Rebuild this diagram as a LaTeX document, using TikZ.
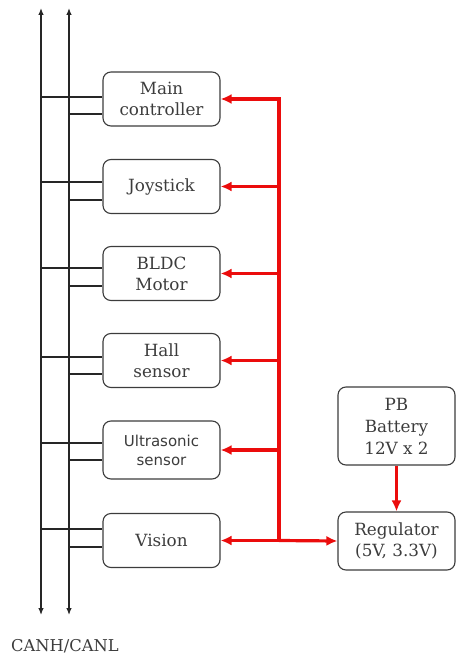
\documentclass[tikz,border=0pt]{standalone}
\usepackage{fontspec}
\setmainfont{DejaVu Serif}
\newfontfamily\ussans{DejaVu Sans}
\usetikzlibrary{arrows.meta,calc}
\definecolor{pwr}{RGB}{235,12,12}
\definecolor{edge}{RGB}{60,60,60}
\definecolor{txt}{RGB}{60,60,60}
\begin{document}
\begin{tikzpicture}[x=1pt,y=-1pt,
  blk/.style={draw=edge,line width=1.1pt,rounded corners=8pt,minimum width=117pt,minimum height=54pt,inner sep=0pt,align=center,text=txt,font=\fontsize{16.8}{21}\selectfont},
  bus/.style={line width=1.2pt,black!85},
  stub/.style={line width=1.1pt,black!85},
  pline/.style={pwr,line width=3.2pt,line cap=rect},
  parr/.style={pwr,line width=3.2pt,-{Latex[length=11pt,width=10pt]}},
]
\useasboundingbox (0,0) rectangle (456,655);
\node[blk] (main) at (161.5,99) {Main\\controller};
\node[blk] (joy) at (161.5,186.5) {Joystick};
\node[blk] (bldc) at (161.5,273.5) {BLDC\\Motor};
\node[blk] (hall) at (161.5,360.5) {Hall\\sensor};
\node[blk,minimum height=58pt,font=\ussans\fontsize{15}{19}\selectfont] (ultra) at (161.5,450) {Ultrasonic\\sensor};
\node[blk] (vis) at (161.5,540.5) {Vision};
\node[blk,minimum height=78pt,font=\fontsize{16.8}{22}\selectfont] (bat) at (396.5,426) {PB\\Battery\\12V x 2};
\node[blk,minimum height=58pt] (reg) at (396.5,541) {Regulator\\(5V, 3.3V)};
\node[anchor=base west,inner sep=0pt,text=txt,font=\fontsize{16.3}{18}\selectfont] (can) at (11,651) {CANH/CANL};
% CAN bus
\coordinate (htop) at (41,8);
\coordinate (hbot) at (41,615);
\coordinate (ltop) at (69,8);
\coordinate (lbot) at (69,615);
\draw[bus,{Latex[length=7pt,width=5.5pt]}-{Latex[length=7pt,width=5.5pt]}] (htop) -- (hbot);
\draw[bus,{Latex[length=7pt,width=5.5pt]}-{Latex[length=7pt,width=5.5pt]}] (ltop) -- (lbot);
\foreach \b/\ya/\yb in {main/97/114, joy/182/200, bldc/268/286, hall/357/374, ultra/443/460, vis/529/547}{
  \draw[stub] (htop |- 0,\ya) -- (\b.west |- 0,\ya);
  \draw[stub] (ltop |- 0,\yb) -- (\b.west |- 0,\yb);
}
% power
\coordinate (j) at (279,540.5);
\draw[pline] (main.east -| j) -- (j);
\foreach \b in {main,joy,bldc,hall,ultra}{
  \draw[parr] (\b.east -| j) -- (\b.east);
}
\draw[parr] (j) -- (vis.east);
\draw[parr] (j) -- (reg.west);
\draw[parr] (bat.south) -- (reg.north);
\end{tikzpicture}
\end{document}
